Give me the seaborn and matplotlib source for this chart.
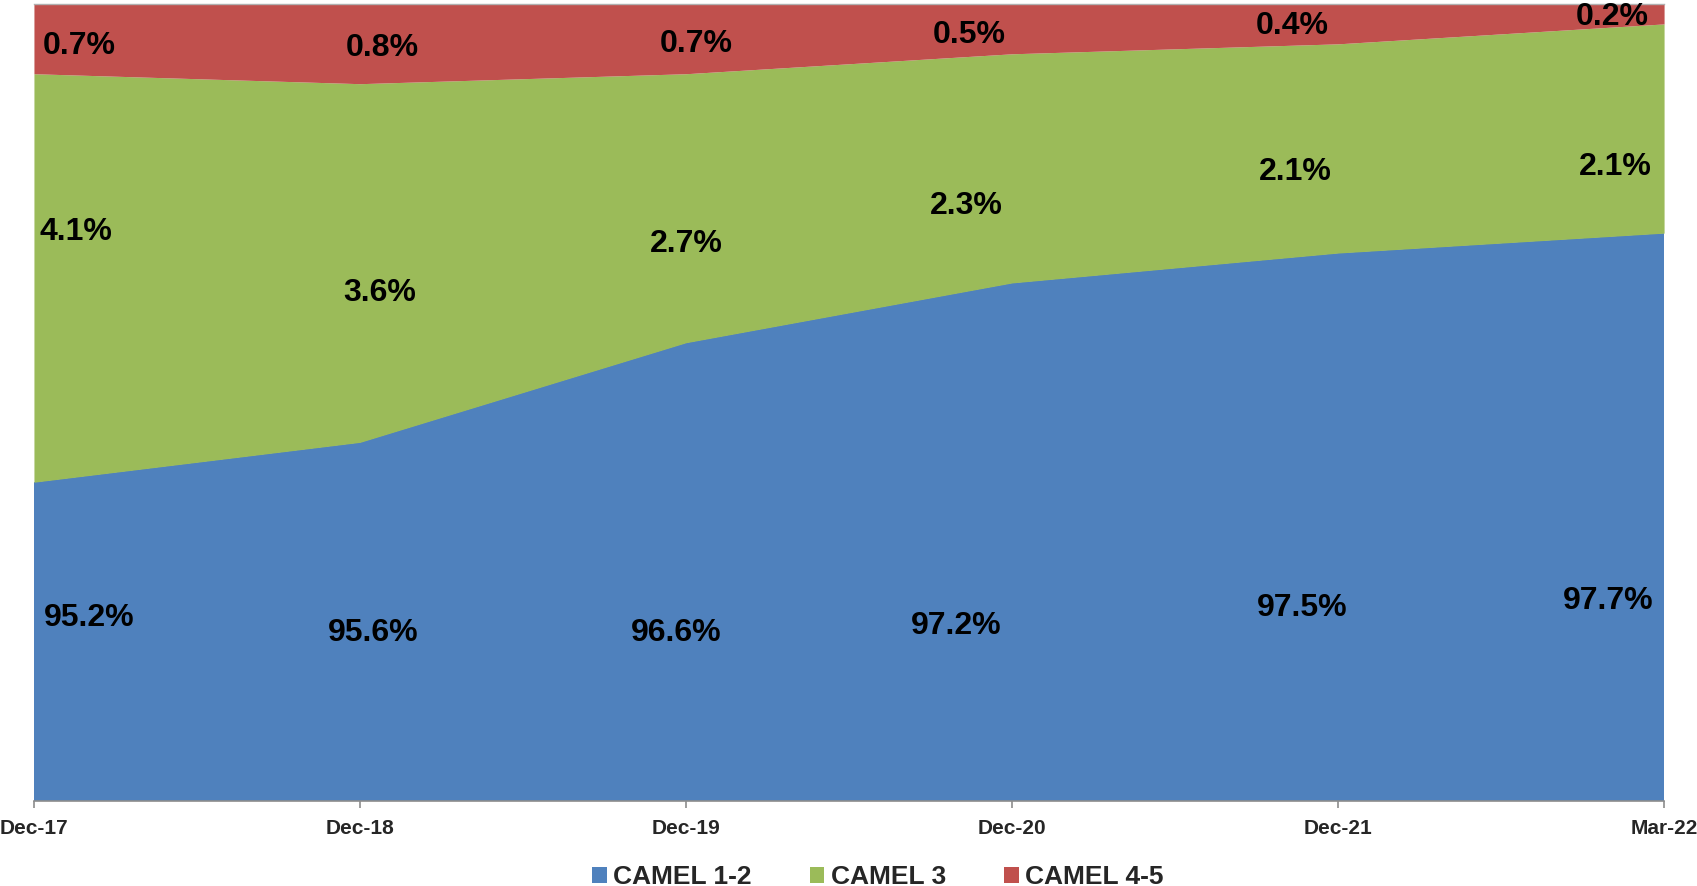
import matplotlib
matplotlib.use("Agg")
import matplotlib.pyplot as plt
from matplotlib.patches import Patch
import seaborn as sns
import numpy as np

# Share of institutions by CAMEL rating (percent)
periods = ["Dec-17", "Dec-18", "Dec-19", "Dec-20", "Dec-21", "Mar-22"]
camel_12 = [95.2, 95.6, 96.6, 97.2, 97.5, 97.7]
camel_3 = [4.1, 3.6, 2.7, 2.3, 2.1, 2.1]
camel_45 = [0.7, 0.8, 0.7, 0.5, 0.4, 0.2]
series_names = ["CAMEL 1-2", "CAMEL 3", "CAMEL 4-5"]

# Label placement (x offset from the category, y in axis units)
lbl_dx_12 = [0.17, 0.04, -0.03, -0.17, -0.11, -0.17]
lbl_y_12 = [93.835, 93.685, 93.685, 93.755, 93.935, 94.005]
lbl_dx_3 = [0.13, 0.06, 0.0, -0.14, -0.13, -0.15]
lbl_y_3 = [97.715, 97.095, 97.595, 97.975, 98.315, 98.365]
lbl_dx_45 = [0.14, 0.07, 0.03, -0.13, -0.14, -0.16]
lbl_y_45 = [99.575, 99.555, 99.595, 99.685, 99.775, 99.865]

sns.set_theme(style="white")
plt.rcParams["font.family"] = ["Liberation Sans", "DejaVu Sans"]
plt.rcParams["font.weight"] = "bold"

palette = sns.color_palette(["#4F81BD", "#9BBB59", "#C0504D"])

fig = plt.figure(figsize=(16.97, 8.86), dpi=100)
ax = fig.add_axes([0.020, 0.0959, 0.9606, 0.8996])

x = np.arange(len(periods))
ax.stackplot(x, camel_12, camel_3, camel_45, colors=palette, linewidth=0)

ax.set_xlim(0, len(periods) - 1)
ax.set_ylim(92, 100)
ax.set_yticks([])
ax.set_xticks(x)
ax.set_xticklabels(periods, fontsize=15, fontweight="bold")
ax.tick_params(axis="x", length=5, width=1.2, color="#8c8c8c", pad=8, direction="out")
ax.xaxis.set_ticks_position("bottom")

for side in ["left", "right"]:
    ax.spines[side].set_visible(False)
ax.spines["bottom"].set_color("#8c8c8c")
ax.spines["bottom"].set_linewidth(1.2)
ax.spines["top"].set_color("#b0b0b0")
ax.spines["top"].set_linewidth(1.0)

label_sets = [
    (camel_12, lbl_dx_12, lbl_y_12),
    (camel_3, lbl_dx_3, lbl_y_3),
    (camel_45, lbl_dx_45, lbl_y_45),
]
for vals, dxs, ys in label_sets:
    for i, (v, dx, y) in enumerate(zip(vals, dxs, ys)):
        ax.text(i + dx, y, f"{v:.1f}%", ha="center", va="center",
                fontsize=23, fontweight="bold", color="black")

handles = [Patch(facecolor=c, edgecolor="none", label=n) for c, n in zip(palette, series_names)]
fig.legend(handles=handles, loc="center", bbox_to_anchor=(878 / 1697, 1 - 877 / 886),
           ncol=3, frameon=False, handlelength=0.55, handleheight=0.55,
           handletextpad=0.25, columnspacing=2.2, prop={"weight": "bold", "size": 19})

fig.savefig("out.png", dpi=100)
